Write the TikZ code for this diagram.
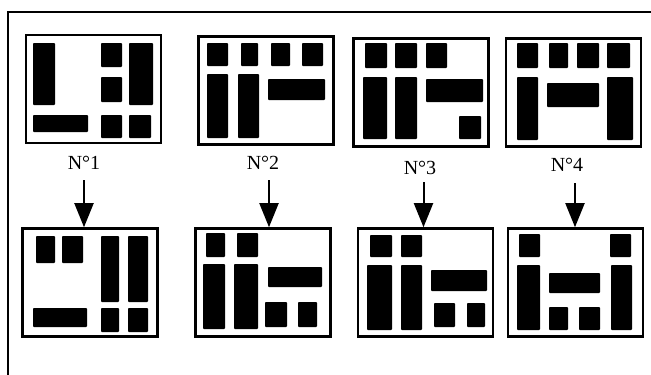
\documentclass[tikz,border=0pt]{standalone}
\usepackage{fontspec}
\setmainfont{Liberation Serif}
\usepackage{tikz}
\usetikzlibrary{arrows.meta}

\begin{document}
\begin{tikzpicture}[x=1pt, y=-1pt,
  panel/.style={draw, line width=2.6pt, minimum width=135pt, minimum height=108pt, inner sep=0pt},
  blk/.style={fill=black, rounded corners=0.8pt},
  lbl/.style={font=\fontsize{20}{22}\selectfont, inner sep=1pt},
  arr/.style={-{Triangle[length=24pt, width=19pt]}, line width=2pt},
]
  \useasboundingbox (0,0) rectangle (651,375);
  % frame, open at right and bottom
  \draw[line width=1.6pt] (8,375) -- (8,12) -- (651,12);

  % top row
  \node[panel] (top1) at (93.5,89) {};
  \node[panel] (top2) at (266,90.5) {};
  \node[panel] (top3) at (421,92.5) {};
  \node[panel] (top4) at (573.5,92.5) {};
  % bottom row
  \node[panel] (bot1) at (90,282.5) {};
  \node[panel] (bot2) at (263,282.5) {};
  \node[panel] (bot3) at (425.5,282.5) {};
  \node[panel] (bot4) at (575.5,282.5) {};

  \foreach \a/\b/\c/\d in {33/43/55/105, 33/115/88/132, 101/43/122/67, 101/77/122/102,
      129/43/153/105, 101/115/122/138, 129/115/151/138,
      207/43/228/66, 241/43/258/66, 271/43/290/66, 302/43/323/66,
      207/74/228/138, 238/74/259/138, 268/79/325/100,
      365/43/387/68, 395/43/417/68, 426/43/447/68, 363/77/387/139,
      395/77/417/139, 426/79/483/102, 459/116/481/139,
      517/43/538/68, 549/43/568/68, 577/43/599/68, 607/43/630/68,
      517/77/538/140, 547/83/599/107, 607/77/633/140}
    \fill[blk] (\a,\b) rectangle (\c,\d);

  \foreach \a/\b/\c/\d in {36/236/55/263, 62/236/83/263, 101/236/119/302, 128/236/148/302,
      33/308/87/327, 101/308/119/332, 128/308/148/332,
      206/233/225/257, 237/233/258/257, 203/264/225/329, 234/264/258/329,
      268/267/322/287, 265/302/287/327, 298/302/317/327,
      370/235/392/257, 401/235/422/257, 367/265/392/330, 401/265/422/330,
      431/270/487/291, 434/303/455/327, 467/303/485/327,
      519/234/540/257, 610/234/631/257, 517/265/540/330, 549/273/600/293,
      549/307/568/330, 579/307/600/330, 611/265/632/330}
    \fill[blk] (\a,\b) rectangle (\c,\d);

  % labels and arrows
  \node[lbl] (lab1) at (84,163) {N°1};
  \node[lbl] (lab2) at (263,163) {N°2};
  \node[lbl] (lab3) at (420,168) {N°3};
  \node[lbl] (lab4) at (567,165) {N°4};
  \coordinate (s1) at (84,180);
  \coordinate (s2) at (269,180);
  \coordinate (s3) at (423.5,182);
  \coordinate (s4) at (575,183);
  \draw[arr] (s1) -- (s1 |- bot1.north);
  \draw[arr] (s2) -- (s2 |- bot2.north);
  \draw[arr] (s3) -- (s3 |- bot3.north);
  \draw[arr] (s4) -- (s4 |- bot4.north);
\end{tikzpicture}
\end{document}
